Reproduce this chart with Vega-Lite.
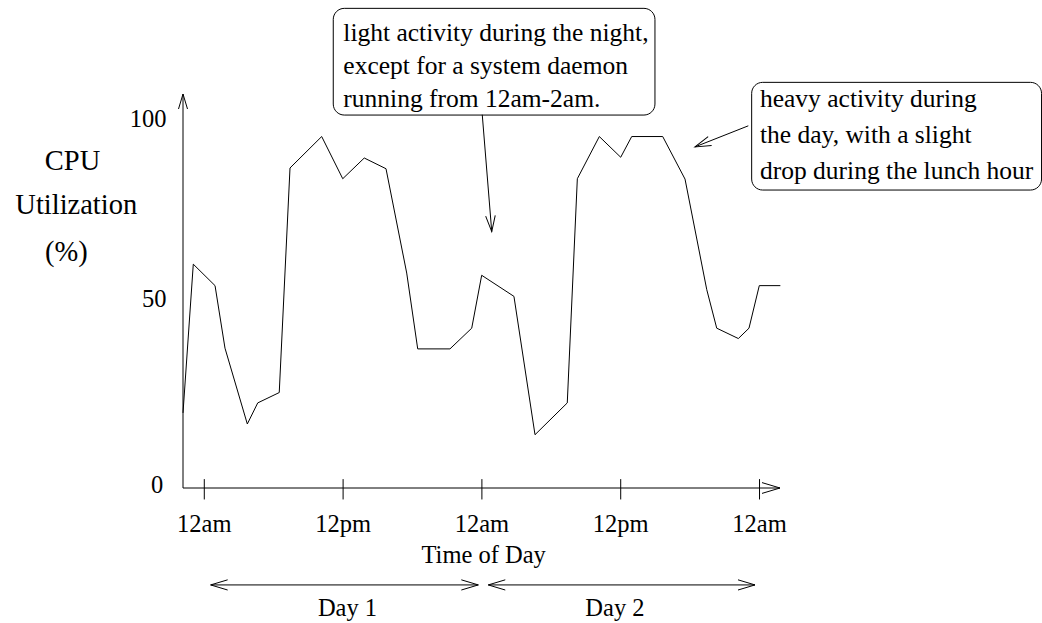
{
  "$schema": "https://vega.github.io/schema/vega-lite/v6.json",
  "width": 597,
  "height": 394,
  "autosize": {"type": "none"},
  "padding": {"left": 183, "top": 94, "right": 262, "bottom": 135},
  "background": "white",
  "config": {"view": {"stroke": null}, "text": {"font": "Liberation Serif", "color": "black"}},
  "datasets": {
    "cpu": [
      {"h": -1.84, "v": 20.3}, {"h": -0.95, "v": 60.5}, {"h": 0.93, "v": 54.7}, {"h": 1.79, "v": 37.8},
      {"h": 3.72, "v": 17.3}, {"h": 4.62, "v": 23.0}, {"h": 6.48, "v": 25.8}, {"h": 7.41, "v": 86.5},
      {"h": 10.15, "v": 95.0}, {"h": 11.97, "v": 83.6}, {"h": 13.83, "v": 89.2}, {"h": 15.71, "v": 86.3},
      {"h": 17.5, "v": 58.1}, {"h": 18.45, "v": 37.6}, {"h": 21.24, "v": 37.6}, {"h": 23.12, "v": 43.2},
      {"h": 23.98, "v": 57.5}, {"h": 26.77, "v": 51.8}, {"h": 28.59, "v": 14.4}, {"h": 31.38, "v": 23.0},
      {"h": 32.25, "v": 83.6}, {"h": 34.15, "v": 95.0}, {"h": 36.0, "v": 89.4}, {"h": 36.95, "v": 95.0},
      {"h": 39.63, "v": 95.0}, {"h": 41.56, "v": 83.5}, {"h": 43.44, "v": 53.6}, {"h": 44.3, "v": 43.2},
      {"h": 46.17, "v": 40.4}, {"h": 47.09, "v": 43.2}, {"h": 47.98, "v": 54.7}, {"h": 49.8, "v": 54.7}
    ],
    "lines": [
      {"part": "x axis", "h": -1.84, "h2": 49.77, "v": 0, "v2": 0},
      {"part": "y axis", "h": -1.84, "h2": -1.84, "v": 0, "v2": 106.5},
      {"part": "tick", "h": 0, "h2": 0, "v": 2.4, "v2": -3.1},
      {"part": "tick", "h": 12, "h2": 12, "v": 2.4, "v2": -3.1},
      {"part": "tick", "h": 24, "h2": 24, "v": 2.4, "v2": -3.1},
      {"part": "tick", "h": 36, "h2": 36, "v": 2.4, "v2": -3.1},
      {"part": "tick", "h": 48, "h2": 48, "v": 2.4, "v2": -3.1},
      {"part": "day 1", "h": 0.55, "h2": 23.69, "v": -26.2, "v2": -26.2},
      {"part": "day 2", "h": 24.55, "h2": 47.61, "v": -26.2, "v2": -26.2},
      {"part": "note 1", "h": 24.03, "h2": 24.85, "v": 100.9, "v2": 69.3},
      {"part": "note 2", "h": 47.03, "h2": 42.42, "v": 97.9, "v2": 92.2}
    ],
    "boxes": [
      {"h": 11.15, "h2": 38.96, "v": 129.65, "v2": 100.81},
      {"h": 47.32, "h2": 72.38, "v": 109.65, "v2": 80.54}
    ],
    "notes": [
      {"t": "light activity during the night,", "h": 12.02, "v": 120.8},
      {"t": "except for a system daemon", "h": 12.02, "v": 111.9},
      {"t": "running from 12am-2am.", "h": 12.02, "v": 103.0},
      {"t": "heavy activity during", "h": 48.04, "v": 103.0},
      {"t": "the day, with a slight", "h": 48.04, "v": 93.3},
      {"t": "drop during the lunch hour", "h": 48.04, "v": 83.5}
    ],
    "xlabels": [
      {"t": "12am", "h": 0, "v": -11.8}, {"t": "12pm", "h": 12, "v": -11.8}, {"t": "12am", "h": 24, "v": -11.8},
      {"t": "12pm", "h": 36, "v": -11.8}, {"t": "12am", "h": 48, "v": -11.8},
      {"t": "Time of Day", "h": 24.15, "v": -20.4},
      {"t": "Day 1", "h": 12.38, "v": -34.7}, {"t": "Day 2", "h": 35.5, "v": -34.7}
    ],
    "ylabels": [
      {"t": "100", "h": -3.27, "v": 97.65}, {"t": "50", "h": -3.27, "v": 48.8}, {"t": "0", "h": -3.54, "v": -1.3}
    ],
    "ytitle": [
      {"t": "CPU", "h": -11.39, "v": 85.9}, {"t": "Utilization", "h": -11.07, "v": 74.05}, {"t": "(%)", "h": -11.93, "v": 61.4}
    ]
  },
  "encoding": {
    "x": {"field": "h", "type": "quantitative", "scale": {"domain": [-1.84, 49.77], "nice": false, "zero": false}, "axis": null},
    "y": {"field": "v", "type": "quantitative", "scale": {"domain": [0, 106.5], "nice": false, "zero": false}, "axis": null}
  },
  "layer": [
    {
      "data": {"name": "boxes"},
      "mark": {"type": "rect", "fill": "white", "stroke": "black", "strokeWidth": 1, "cornerRadius": 11},
      "encoding": {"x2": {"field": "h2"}, "y2": {"field": "v2"}}
    },
    {
      "data": {"name": "lines"},
      "mark": {"type": "rule", "color": "black", "strokeWidth": 1},
      "encoding": {"x2": {"field": "h2"}, "y2": {"field": "v2"}}
    },
    {
      "data": {"name": "cpu"},
      "mark": {"type": "line", "color": "black", "strokeWidth": 1, "strokeJoin": "miter"},
      "encoding": {}
    },
    {
      "data": {"values": [{"h": 49.77, "v": 0}]},
      "mark": {"type": "point", "shape": "M-1,-0.3L0,0L-1,0.3", "filled": false, "stroke": "black", "strokeWidth": 1, "opacity": 1, "size": 1296, "angle": 0},
      "encoding": {}
    },
    {
      "data": {"values": [{"h": -1.84, "v": 106.5}]},
      "mark": {"type": "point", "shape": "M-1,-0.3L0,0L-1,0.3", "filled": false, "stroke": "black", "strokeWidth": 1, "opacity": 1, "size": 900, "angle": 270},
      "encoding": {}
    },
    {
      "data": {"values": [{"h": 23.69, "v": -26.2}, {"h": 47.61, "v": -26.2}]},
      "mark": {"type": "point", "shape": "M-1,-0.3L0,0L-1,0.3", "filled": false, "stroke": "black", "strokeWidth": 1, "opacity": 1, "size": 1156, "angle": 0},
      "encoding": {}
    },
    {
      "data": {"values": [{"h": 0.55, "v": -26.2}, {"h": 24.55, "v": -26.2}]},
      "mark": {"type": "point", "shape": "M-1,-0.3L0,0L-1,0.3", "filled": false, "stroke": "black", "strokeWidth": 1, "opacity": 1, "size": 1156, "angle": 180},
      "encoding": {}
    },
    {
      "data": {"values": [{"h": 24.85, "v": 69.3}]},
      "mark": {"type": "point", "shape": "M-1,-0.3L0,0L-1,0.3", "filled": false, "stroke": "black", "strokeWidth": 1, "opacity": 1, "size": 1024, "angle": 85.4},
      "encoding": {}
    },
    {
      "data": {"values": [{"h": 42.42, "v": 92.2}]},
      "mark": {"type": "point", "shape": "M-1,-0.3L0,0L-1,0.3", "filled": false, "stroke": "black", "strokeWidth": 1, "opacity": 1, "size": 1024, "angle": 158.8},
      "encoding": {}
    },
    {
      "data": {"name": "notes"},
      "mark": {"type": "text", "align": "left", "baseline": "alphabetic", "fontSize": 25.5},
      "encoding": {"text": {"field": "t"}}
    },
    {
      "data": {"name": "xlabels"},
      "mark": {"type": "text", "align": "center", "baseline": "alphabetic", "fontSize": 24.5},
      "encoding": {"text": {"field": "t"}}
    },
    {
      "data": {"name": "ylabels"},
      "mark": {"type": "text", "align": "right", "baseline": "alphabetic", "fontSize": 24.5},
      "encoding": {"text": {"field": "t"}}
    },
    {
      "data": {"name": "ytitle"},
      "mark": {"type": "text", "align": "center", "baseline": "alphabetic", "fontSize": 28.5},
      "encoding": {"text": {"field": "t"}}
    }
  ]
}
